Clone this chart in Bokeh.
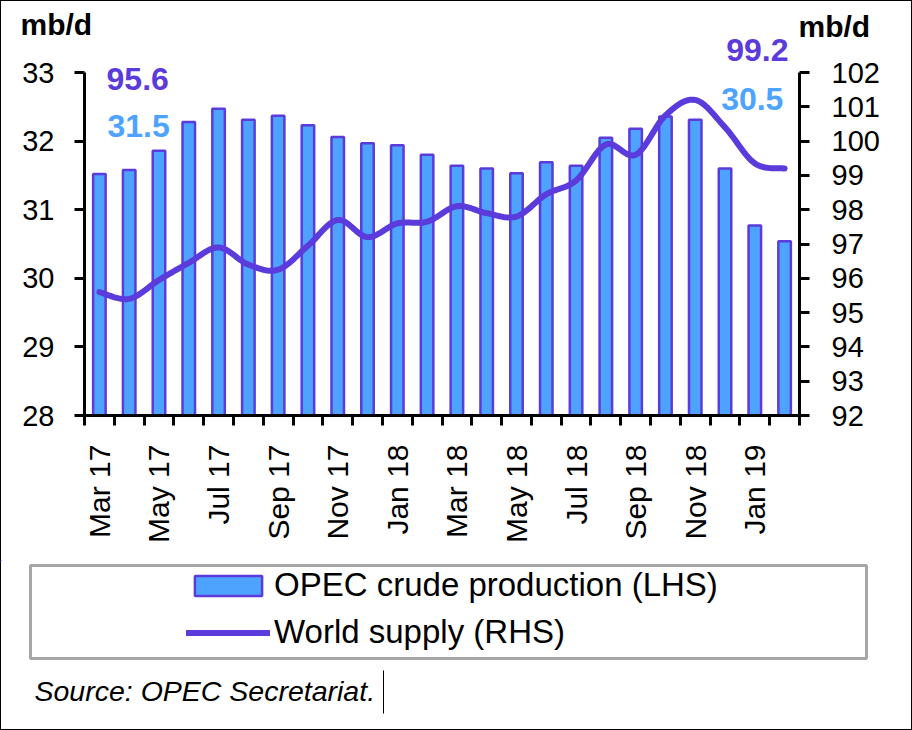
import math
from bokeh.plotting import figure
from bokeh.layouts import column
from bokeh.models import (Range1d, LinearAxis, FixedTicker, Legend, LegendItem,
                          Label, BoxAnnotation)
from bokeh.embed import file_html
from bokeh.resources import INLINE

# Monthly data, Mar 2017 - Feb 2019
months = ["Mar 17", "Apr 17", "May 17", "Jun 17", "Jul 17", "Aug 17", "Sep 17",
          "Oct 17", "Nov 17", "Dec 17", "Jan 18", "Feb 18", "Mar 18", "Apr 18",
          "May 18", "Jun 18", "Jul 18", "Aug 18", "Sep 18", "Oct 18", "Nov 18",
          "Dec 18", "Jan 19", "Feb 19"]
opec_crude = [31.52, 31.58, 31.86, 32.28, 32.47, 32.31, 32.37, 32.23, 32.06, 31.97,
              31.94, 31.80, 31.64, 31.60, 31.53, 31.69, 31.64, 32.05, 32.18, 32.36,
              32.31, 31.60, 30.77, 30.54]
world_supply = [95.6, 95.4, 95.95, 96.45, 96.9, 96.4, 96.25, 96.95, 97.7, 97.2,
                97.6, 97.65, 98.1, 97.9, 97.8, 98.45, 98.85, 99.9, 99.6, 100.75,
                101.2, 100.4, 99.35, 99.2]
lhs_ticks = [28, 29, 30, 31, 32, 33]
rhs_ticks = list(range(92, 103))

PURPLE = "#5B3BDB"
BLUE = "#4DA3FF"
FONT = "Liberation Sans"
W = 912

n = len(months)
xc = [i + 0.5 for i in range(n)]


def smooth(xs, ys, steps=16):
    """Smoothed path through the points (cubic Bezier, Catmull-Rom tangents)."""
    px, py = [xs[0]], [ys[0]]
    m = len(xs)
    for i in range(m - 1):
        i0, i3 = max(i - 1, 0), min(i + 2, m - 1)
        x0, y0 = xs[i0], ys[i0]
        x1, y1 = xs[i], ys[i]
        x2, y2 = xs[i + 1], ys[i + 1]
        x3, y3 = xs[i3], ys[i3]
        c1x, c1y = x1 + (x2 - x0) / 6, y1 + (y2 - y0) / 6
        c2x, c2y = x2 - (x3 - x1) / 6, y2 - (y3 - y1) / 6
        for s in range(1, steps + 1):
            t = s / steps
            a, b, c, d = (1 - t) ** 3, 3 * (1 - t) ** 2 * t, 3 * (1 - t) * t ** 2, t ** 3
            px.append(a * x1 + b * c1x + c * c2x + d * x2)
            py.append(a * y1 + b * c1y + c * c2y + d * y2)
    return px, py


def no_frame_align(f):
    if "frame_align" in f.properties():
        f.frame_align = False


def blank(height):
    """A figure whose frame fills the whole canvas; y counts down from its top."""
    f = figure(width=W, height=height, output_backend="svg", toolbar_location=None,
               x_range=Range1d(0, W), y_range=Range1d(height, 0),
               x_axis_type=None, y_axis_type=None,
               min_border_left=0, min_border_right=0,
               min_border_top=0, min_border_bottom=0)
    f.outline_line_color = None
    f.grid.visible = False
    f.background_fill_color = None
    f.border_fill_color = None
    no_frame_align(f)
    return f


# ---------------- header: units and last world-supply value ----------------
HEAD_H = 68
OVERLAP = 14
head = blank(HEAD_H)
head.add_layout(Label(x=20, y=23.5, text="mb/d", text_font=FONT,
                      text_font_size="30px", text_font_style="bold",
                      text_color="black", text_baseline="middle"))
head.add_layout(Label(x=798, y=26, text="mb/d", text_font=FONT,
                      text_font_size="30px", text_font_style="bold",
                      text_color="black", text_baseline="middle"))
head.add_layout(Label(x=788, y=49, text=f"{world_supply[-1]:.1f}", text_font=FONT,
                      text_font_size="32px", text_font_style="bold",
                      text_color=PURPLE, text_align="right", text_baseline="middle"))

# ---------------- main chart ----------------
TOP, FRAME_BOTTOM, FOOT_TOP = HEAD_H - OVERLAP, 415, 560
MAIN_H = FOOT_TOP - TOP
px_per_lhs = 68.6   # pixels per mb/d on the left scale
ext = 11            # frame reaches a little above the top tick
p = figure(width=W, height=MAIN_H, output_backend="svg", toolbar_location=None,
           x_range=Range1d(0, n), y_range=Range1d(28, 33 + ext / px_per_lhs),
           x_axis_type=None, y_axis_type=None,
           min_border_left=84, min_border_right=113,
           min_border_top=72 - ext - TOP, min_border_bottom=FOOT_TOP - FRAME_BOTTOM,
           styles={"margin-top": f"-{OVERLAP}px"})
p.outline_line_color = None
p.background_fill_color = None
p.border_fill_color = None
no_frame_align(p)
p.extra_y_ranges = {"rhs": Range1d(92, 102 + ext / (px_per_lhs / 2))}

# Bottom axis: tick marks at month boundaries, labels every second month
xaxis = LinearAxis(ticker=FixedTicker(ticks=[xc[i] for i in range(0, n, 2)],
                                      minor_ticks=list(range(n + 1))))
xaxis.major_label_overrides = {xc[i]: months[i] for i in range(0, n, 2)}
xaxis.major_label_orientation = math.pi / 2
xaxis.major_tick_out = 0
xaxis.major_tick_in = 0
xaxis.major_tick_line_color = None
xaxis.minor_tick_out = 10
xaxis.minor_tick_in = 0
xaxis.minor_tick_line_width = 3
xaxis.minor_tick_line_color = "black"
xaxis.major_label_standoff = 19
p.add_layout(xaxis, "below")

yl = LinearAxis(ticker=FixedTicker(ticks=lhs_ticks, minor_ticks=[]), bounds=(28, 33))
yl.major_label_standoff = 20
p.add_layout(yl, "left")

yr = LinearAxis(y_range_name="rhs", ticker=FixedTicker(ticks=rhs_ticks, minor_ticks=[]),
                bounds=(92, 102))
yr.major_label_standoff = 22
p.add_layout(yr, "right")

for ax in (xaxis, yl, yr):
    ax.axis_line_width = 3
    ax.axis_line_color = "black"
    ax.major_label_text_font = FONT
    ax.major_label_text_font_size = "29px"
    ax.major_label_text_color = "black"
for ax in (yl, yr):
    ax.major_tick_out = 10
    ax.major_tick_in = 0
    ax.major_tick_line_width = 3
    ax.major_tick_line_color = "black"
    ax.minor_tick_line_color = None
xaxis.major_label_text_font_size = "30px"

bar_style = dict(fill_color=BLUE, line_color=PURPLE, line_width=2.5)
line_style = dict(line_color=PURPLE, line_width=6, line_cap="round", line_join="round")

bars = p.vbar(x=xc, top=opec_crude, bottom=28, width=0.42, **bar_style)
sx, sy = smooth(xc, world_supply)
line = p.line(sx, sy, y_range_name="rhs", **line_style)

# First and last values
value_labels = [
    (f"{world_supply[0]:.1f}", 0.74, 32.905, "left", PURPLE),
    (f"{opec_crude[0]:.1f}", 0.77, 32.227, "left", BLUE),
    (f"{opec_crude[-1]:.1f}", 23.46, 32.614, "right", BLUE),
]
for txt, x, y, align, col in value_labels:
    p.add_layout(Label(x=x, y=y, text=txt, text_font=FONT, text_font_size="32px",
                       text_font_style="bold", text_color=col, text_align=align,
                       text_baseline="middle"))

# ---------------- footer: legend and source ----------------
FOOT_H = 730 - FOOT_TOP
foot = blank(FOOT_H)
foot.add_layout(BoxAnnotation(left=30, right=866, top=5, bottom=98,
                              fill_color=None, fill_alpha=0,
                              line_color="#A6A6A6", line_alpha=1, line_width=3))
# legend keys styled like the chart series (kept outside the visible range)
key_bar = foot.vbar(x=[-500], top=[-500], bottom=-501, width=1, **bar_style)
key_line = foot.line(x=[-500, -499], y=[-500, -500], **line_style)
legend = Legend(items=[LegendItem(label="OPEC crude production (LHS)", renderers=[key_bar]),
                       LegendItem(label="World supply (RHS)", renderers=[key_line])],
                location=(186, 79), orientation="vertical",
                glyph_width=84, glyph_height=25, label_height=36, spacing=9,
                label_standoff=4, padding=0, margin=0,
                label_text_font=FONT, label_text_font_size="33px",
                label_text_color="black", label_text_baseline="middle",
                border_line_color=None, background_fill_alpha=0)
foot.add_layout(legend)

foot.add_layout(Label(x=34, y=130, text="Source: OPEC Secretariat.", text_font=FONT,
                      text_font_size="28.5px", text_font_style="italic",
                      text_color="black", text_baseline="middle"))
foot.add_layout(BoxAnnotation(left=382.5, right=383.5, top=110, bottom=153,
                              fill_color="black", fill_alpha=1,
                              line_color=None))

page = column(head, p, foot, spacing=0,
              styles={"outline": "1px solid black", "outline-offset": "-1px",
                      "background-color": "white"})

open("out.html", "w").write(file_html(page, INLINE))
